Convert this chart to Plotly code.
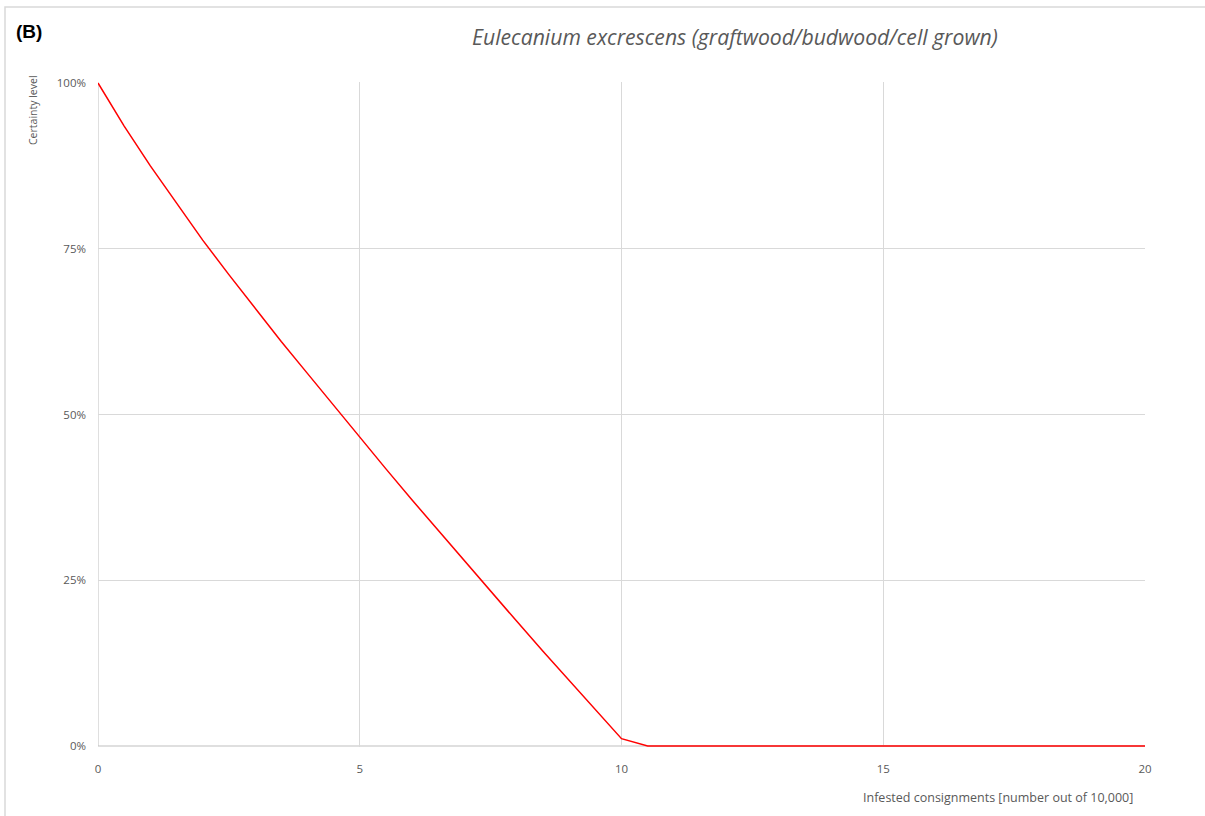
import plotly.graph_objects as go

x_vals = [0, 0.5, 1, 1.5, 2, 2.5, 3, 3.5, 4, 4.5, 5, 5.5, 6, 6.5, 7, 7.5, 8, 8.5, 9, 9.5, 10,
          10.5, 11, 12, 13, 14, 15, 16, 17, 18, 19, 20]
certainty = [1.000, 0.935, 0.875, 0.818, 0.763, 0.711, 0.660, 0.610, 0.562, 0.514, 0.465,
             0.418, 0.371, 0.325, 0.279, 0.233, 0.188, 0.143, 0.099, 0.055, 0.011,
             0, 0, 0, 0, 0, 0, 0, 0, 0, 0, 0]
x_ticks = [0, 5, 10, 15, 20]
y_ticks = [0, 0.25, 0.5, 0.75, 1.0]
y_tick_labels = ["0%", "25%", "50%", "75%", "100%"]

title_text = "Eulecanium excrescens (graftwood/budwood/cell grown)"
panel_label = "(B)"
x_title = "Infested consignments [number out of 10,000]"
y_title = "Certainty level"

grey = "#595959"
grid = "#d9d9d9"

fig = go.Figure()
fig.add_trace(go.Scatter(x=x_vals, y=certainty, mode="lines", cliponaxis=False,
                         line=dict(color="#ff0000", width=1.5), showlegend=False))

L, R, T, B = 98, 60, 82, 69
W, H = 1205, 816
pw, ph = W - L - R, H - T - B
pad = 1.0 / 663

def px(xp):
    return (xp - L) / pw

def py(yp):
    return (H - B - yp) / ph

fig.update_layout(
    width=W, height=H,
    margin=dict(l=L, r=R, t=T, b=B),
    paper_bgcolor="white", plot_bgcolor="white",
    font=dict(family="Open Sans, sans-serif", color=grey, size=11.5),
    xaxis=dict(range=[0, 20], tickvals=x_ticks, showgrid=True, gridcolor=grid, gridwidth=1,
               zeroline=False, showline=False, ticks="", ticklabelstandoff=13,
               tickfont=dict(size=11.5, color=grey)),
    yaxis=dict(range=[-pad, 1 + pad], tickvals=y_ticks, ticktext=y_tick_labels, showgrid=True,
               gridcolor=grid, gridwidth=1, zeroline=False, showline=False, ticks="",
               ticklabelstandoff=11, tickfont=dict(size=11.5, color=grey)),
    shapes=[
        dict(type="rect", xref="paper", yref="paper", x0=px(5), x1=px(1215), y0=py(7), y1=py(830),
             line=dict(color="#d9d9d9", width=1.5), fillcolor="rgba(0,0,0,0)", layer="below"),
        dict(type="line", xref="paper", yref="y", x0=0, x1=1, y0=0, y1=0,
             line=dict(color="#bfbfbf", width=1), layer="below"),
        dict(type="line", xref="x", yref="y", x0=0, x1=0, y0=0, y1=1,
             line=dict(color="#bfbfbf", width=1), layer="below"),
    ],
    annotations=[
        dict(text=panel_label, xref="paper", yref="paper", x=px(14), y=py(32), xanchor="left",
             yanchor="middle", showarrow=False,
             font=dict(family="Liberation Sans, Arial, sans-serif", size=19, color="black", weight="bold")),
        dict(text="<i>" + title_text + "</i>", xref="paper", yref="paper", x=px(735), y=py(36),
             xanchor="center", yanchor="middle", showarrow=False,
             font=dict(family="Open Sans, sans-serif", size=21.2, color=grey)),
        dict(text=x_title, xref="paper", yref="paper", x=px(1135), y=py(797), xanchor="right",
             yanchor="middle", showarrow=False, font=dict(size=12.5, color=grey)),
        dict(text=y_title, xref="paper", yref="paper", x=px(33), y=py(73), xanchor="center",
             yanchor="top", textangle=-90, showarrow=False,
             font=dict(family="Liberation Sans Narrow, Open Sans, sans-serif", size=10.5, color=grey)),
    ],
)

fig.write_html("out.html", config={"displayModeBar": False},
               post_script="document.body.style.margin='0';")
